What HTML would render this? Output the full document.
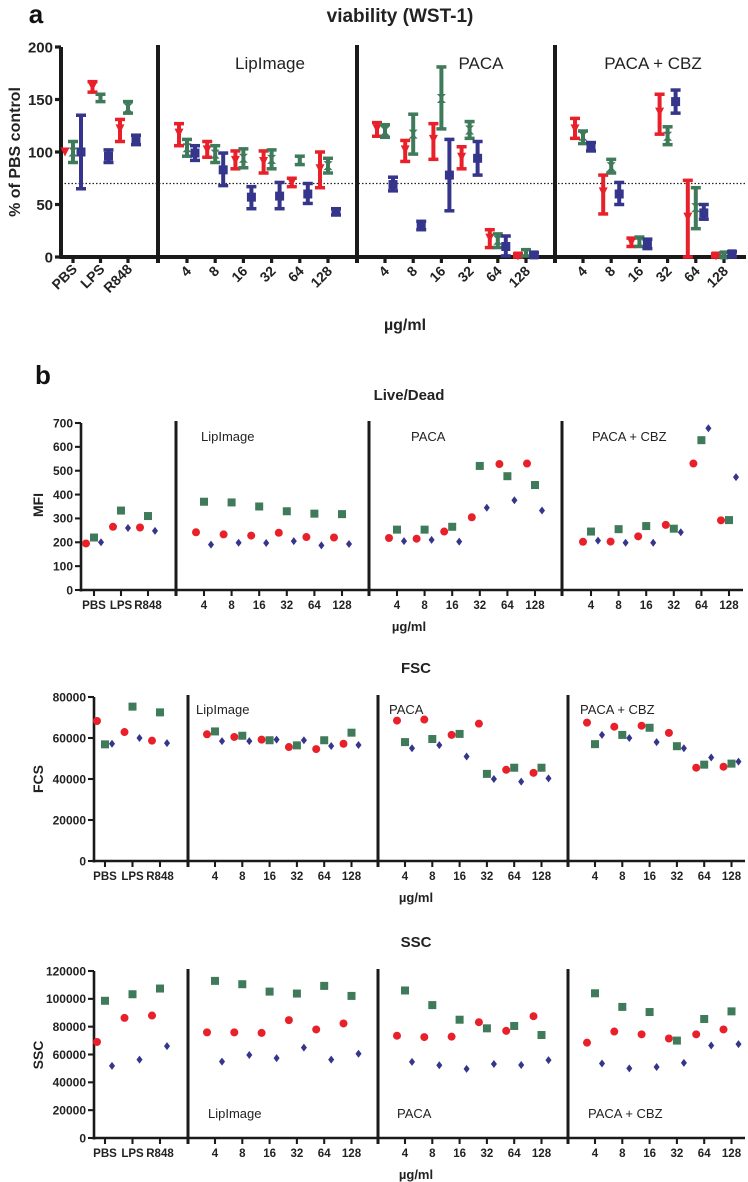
<!DOCTYPE html>
<html><head><meta charset="utf-8"><style>
html,body{margin:0;padding:0;background:#fff;}
svg{display:block;font-family:"Liberation Sans",Arial,sans-serif;}
</style></head><body>
<svg id="fig" width="748" height="1182" viewBox="0 0 748 1182" xmlns="http://www.w3.org/2000/svg"></svg>
<script>
// ---------- DATA ----------
const cats = ['PBS','LPS','R848','4','8','16','32','64','128','4','8','16','32','64','128','4','8','16','32','64','128'];
const groupLabels = ['LipImage','PACA','PACA + CBZ'];
// Panel a (WST-1) mean, low, high
const wstRed   = [100,162,122, 118,102,92,91,71,84, 122,102,112,95,18,1, 122,62,14,138,38,1];
const wstRedLo = [100,157,110, 106,95,84,80,67,66, 115,91,93,84,9,0, 113,41,10,117,0,0];
const wstRedHi = [100,167,131, 127,110,101,101,75,100, 128,111,127,105,26,3, 132,78,18,155,73,3];
const wstGreen   = [100,151,142, 104,98,94,93,92,87, 120,117,151,121,16,4, 115,86,14,115,47,2];
const wstGreenLo = [90,148,137, 96,90,85,84,88,80, 114,98,122,113,9,1, 108,80,10,107,27,0];
const wstGreenHi = [110,155,148, 112,106,103,102,96,94, 126,136,181,129,22,7, 120,93,19,124,66,4];
const wstBlue   = [100,96,111, 99,83,57,58,60,43, 69,30,78,94,10,2, 105,60,12,148,42,3];
const wstBlueLo = [65,90,107, 92,68,46,46,51,40, 63,26,44,78,1,0, 101,50,8,137,36,0];
const wstBlueHi = [135,102,116, 106,99,67,71,70,46, 76,34,112,110,20,4, 109,71,17,159,50,5];
const wstTicks = [0,50,100,150,200];
const wstThreshold = 70;
// Live/Dead MFI
const ldRed   = [195,265,262, 242,233,228,240,222,220, 218,215,245,305,528,530, 202,203,225,273,530,292];
const ldGreen = [220,333,310, 370,367,350,330,320,318, 253,253,265,520,477,440, 245,255,268,257,628,293];
const ldBlue  = [200,260,248, 190,198,197,205,187,193, 205,210,203,345,376,333, 207,198,198,242,678,473];
const ldTicks = [0,100,200,300,400,500,600,700];
// FSC
const fscRed   = [68300,62900,58700, 61800,60500,59200,55600,54600,57200, 68500,69000,61500,67000,44500,43000, 67500,65500,66000,62500,45500,46000];
const fscGreen = [56900,75300,72500, 63200,61100,58900,56400,58900,62600, 58000,59500,62000,42500,45500,45500, 57000,61500,65000,56000,47000,47500];
const fscBlue  = [57200,60000,57500, 58500,58500,59200,58900,56100,56600, 55000,56500,51000,40000,38700,40300, 61500,60000,58000,55000,50500,48500];
const fscTicks = [0,20000,40000,60000,80000];
// SSC
const sscRed   = [69000,86300,88000, 75900,75900,75500,84700,78000,82300, 73500,72500,72800,83200,77000,87500, 68500,76500,74500,71500,74500,78000];
const sscGreen = [98600,103300,107400, 112900,110500,105200,103800,109300,102100, 106000,95500,85000,78800,80500,74000, 104000,94200,90500,70000,85500,91000];
const sscBlue  = [51800,56300,66000, 54900,59600,57400,64900,56300,60500, 54700,52300,49700,53200,52500,56000, 53500,50000,51000,54000,66500,67500];
const sscTicks = [0,20000,40000,60000,80000,100000,120000];

// ---------- HELPERS ----------
const NS='http://www.w3.org/2000/svg';
const svg=document.getElementById('fig');
const RED='#e8202a', GREEN='#3f7a5a', BLUE='#35358c';
function mk(tag, attrs, parent){
  const e=document.createElementNS(NS,tag);
  for(const k in attrs) e.setAttribute(k,attrs[k]);
  (parent||svg).appendChild(e); return e;
}
function txt(s, x, y, opts, parent){
  const e=mk('text',Object.assign({x:x,y:y,'text-anchor':'middle',fill:'#222'},opts||{}),parent);
  e.textContent=s; return e;
}
function tickX(i, L){
  if(i<3) return L.c0 + i*L.cs;
  const g=Math.floor((i-3)/6), k=(i-3)%6;
  return L.g0[g] + k*L.gs;
}
function marker(kind, x, y, color, size, g){
  let e;
  if(kind==='circle') e=mk('circle',{cx:x,cy:y,r:size/2,fill:color},g);
  else if(kind==='square') e=mk('rect',{x:x-size/2,y:y-size/2,width:size,height:size,fill:color},g);
  else if(kind==='diamond') e=mk('polygon',{points:`${x},${y-size/2} ${x+size*0.38},${y} ${x},${y+size/2} ${x-size*0.38},${y}`,fill:color},g);
  else if(kind==='tri') e=mk('polygon',{points:`${x-size/2},${y-size/2} ${x+size/2},${y-size/2} ${x},${y+size/2}`,fill:color},g);
  else if(kind==='hour') e=mk('polygon',{points:`${x-size/2},${y-size/2} ${x+size/2},${y-size/2} ${x-size/2},${y+size/2} ${x+size/2},${y+size/2}`,fill:color},g);
  return e;
}
function drawFrame(L, g){
  const yS=v=>L.y0-(v/L.ymax)*(L.y0-L.yTop);
  // axes
  const ya=mk('line',{x1:L.ax,y1:L.yTop,x2:L.ax,y2:L.y0+1.5,stroke:'#1a1a1a','stroke-width':L.lw},g);
   
  const xa=mk('line',{x1:L.ax-1.5,y1:L.y0,x2:L.xEnd,y2:L.y0,stroke:'#1a1a1a','stroke-width':L.lw},g);
   
  L.ticks.forEach(t=>{
    const y=yS(t);
    mk('line',{x1:L.ax-6,y1:y,x2:L.ax,y2:y,stroke:'#1a1a1a','stroke-width':L.lw*0.8},g);
    const tl=txt(String(t),L.ax-8,y+L.fs*0.36,{'text-anchor':'end','font-weight':'bold','font-size':L.fs},g);
     
  });
  L.seps.forEach(sx=>{
    const s=mk('line',{x1:sx,y1:L.yTop-2,x2:sx,y2:L.y0+6,stroke:'#1a1a1a','stroke-width':L.slw},g);
     
  });
  cats.forEach((c,i)=>{
    const x=tickX(i,L);
    mk('line',{x1:x,y1:L.y0,x2:x,y2:L.y0+6,stroke:'#1a1a1a','stroke-width':L.lw*0.8},g);
  });
  return yS;
}

// ---------- PANEL A ----------
const gA=mk('g',{});
 
let t=txt('a',36,23,{'font-size':26,'font-weight':'bold',fill:'#111'},gA);
 
t=txt('viability (WST-1)',400,22,{'font-size':19,'font-weight':'bold',fill:'#222'},gA);
 
const LA={ax:61,yTop:47,y0:257,ymax:200,xEnd:746,ticks:wstTicks,seps:[158,357,555],c0:73,cs:27.5,g0:[187,385,583],gs:28.2,lw:4,slw:4,fs:15};
const ySA=drawFrame(LA,gA);
const th=mk('line',{x1:LA.ax,y1:ySA(wstThreshold),x2:LA.xEnd,y2:ySA(wstThreshold),stroke:'#222','stroke-width':1.2,'stroke-dasharray':'1.5,2'},gA);
 
t=txt('% of PBS control',0,0,{'font-size':16,'font-weight':'bold',transform:'translate(20,152) rotate(-90)'},gA);
 
[[270,'LipImage'],[481,'PACA'],[653,'PACA + CBZ']].forEach(([x,s],k)=>{
  const e=txt(groupLabels[k],x,69,{'font-size':17},gA);
   
});
cats.forEach((c,i)=>{
  const x=tickX(i,LA);
  const e=txt(c,0,0,{'font-size':14,'font-weight':'bold','text-anchor':'end',transform:`translate(${x+5},${i<3?270:272}) rotate(-45)`},gA);
   
});
t=txt('µg/ml',405,330,{'font-size':16,'font-weight':'bold'},gA);
 
function errSeries(mean,lo,hi,color,off,kind,name){
  mean.forEach((v,i)=>{
    const x=tickX(i,LA)+off;
    const g=mk('g',{},gA);
     
    if(hi[i]!==lo[i]){
      mk('line',{x1:x,y1:ySA(lo[i]),x2:x,y2:ySA(hi[i]),stroke:color,'stroke-width':4},g);
      mk('line',{x1:x-5,y1:ySA(lo[i]),x2:x+5,y2:ySA(lo[i]),stroke:color,'stroke-width':3.5},g);
      mk('line',{x1:x-5,y1:ySA(hi[i]),x2:x+5,y2:ySA(hi[i]),stroke:color,'stroke-width':3.5},g);
    }
    marker(kind,x,ySA(v),color,9,g);
  });
}
errSeries(wstRed,wstRedLo,wstRedHi,RED,-8,'tri','wst-red');
errSeries(wstGreen,wstGreenLo,wstGreenHi,GREEN,0,'hour','wst-green');
errSeries(wstBlue,wstBlueLo,wstBlueHi,BLUE,8,'square','wst-blue');

// ---------- PANEL B ----------
t=txt('b',43,384,{'font-size':26,'font-weight':'bold',fill:'#111'});
 

function scatterPanel(cfg){
  const g=mk('g',{});
   
  const L=cfg.L;
  const yS=drawFrame(L,g);
  let e=txt(cfg.title,cfg.titleX,cfg.titleY,{'font-size':15,'font-weight':'bold'},g);
   
  e=txt(cfg.ylabel,0,0,{'font-size':14,'font-weight':'bold',transform:`translate(${cfg.ylabX},${cfg.ylabY}) rotate(-90)`},g);
   
  cfg.groupPos.forEach((p,k)=>{
    const gl=txt(groupLabels[k],p[0],p[1],{'font-size':13,'text-anchor':'start'},g);
     
  });
  cats.forEach((c,i)=>{
    const tl=txt(c,tickX(i,L),L.y0+19,{'font-size':11.5,'font-weight':'bold'},g);
     
  });
  e=txt('µg/ml',cfg.titleX,L.y0+41,{'font-size':13,'font-weight':'bold'},g);
   
  const series=[[cfg.red,RED,-8,'circle',8,'red'],[cfg.green,GREEN,0,'square',8,'green'],[cfg.blue,BLUE,7,'diamond',8,'blue']];
  series.forEach(([arr,col,off,kind,sz,nm])=>{
    arr.forEach((v,i)=>{
      const m=marker(kind,tickX(i,L)+off,yS(v),col,sz,g);
      
      
    });
  });
}
scatterPanel({name:'live-dead-chart',short:'ld',title:'Live/Dead',titleX:409,titleY:400,ylabel:'MFI',ylabX:43,ylabY:505,
  L:{ax:81,yTop:423,y0:590,ymax:700,xEnd:743,ticks:ldTicks,seps:[176,369,562],c0:94,cs:27,g0:[204,397,591],gs:27.6,lw:2.6,slw:3,fs:12},
  groupPos:[[201,441],[411,441],[592,441]],red:ldRed,green:ldGreen,blue:ldBlue});
scatterPanel({name:'fsc-chart',short:'fsc',title:'FSC',titleX:416,titleY:673,ylabel:'FCS',ylabX:43,ylabY:779,
  L:{ax:94,yTop:697,y0:861,ymax:80000,xEnd:745,ticks:fscTicks,seps:[188,378,568],c0:105,cs:27.5,g0:[215,405,595],gs:27.3,lw:2.6,slw:3,fs:12},
  groupPos:[[196,714],[389,714],[580,714]],red:fscRed,green:fscGreen,blue:fscBlue});
scatterPanel({name:'ssc-chart',short:'ssc',title:'SSC',titleX:416,titleY:947,ylabel:'SSC',ylabX:43,ylabY:1055,
  L:{ax:94,yTop:971,y0:1138,ymax:120000,xEnd:745,ticks:sscTicks,seps:[188,378,568],c0:105,cs:27.5,g0:[215,405,595],gs:27.3,lw:2.6,slw:3,fs:12},
  groupPos:[[208,1118],[397,1118],[588,1118]],red:sscRed,green:sscGreen,blue:sscBlue});
</script>
</body></html>
